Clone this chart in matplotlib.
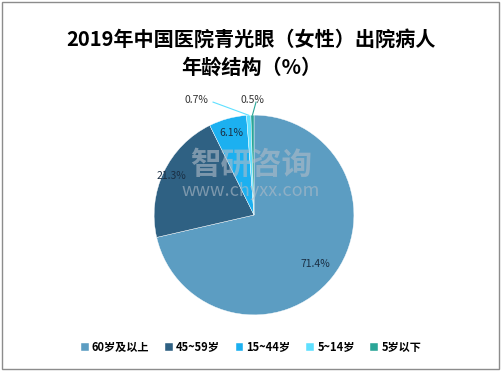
import numpy as np
import matplotlib.pyplot as plt
from matplotlib.patches import Rectangle

plt.rcParams['font.family'] = ['Noto Sans CJK SC', 'DejaVu Sans']

categories = ['60岁及以上', '45~59岁', '15~44岁', '5~14岁', '5岁以下']
shares = [71.4, 21.3, 6.1, 0.7, 0.5]
colors = ['#5c9dc2', '#2f6183', '#1cb0f0', '#5fe0ff', '#2aa597']

fig = plt.figure(figsize=(5.02, 3.71), dpi=100)
fig.patches.append(Rectangle((0.004, 0.005), 0.99, 0.99, transform=fig.transFigure,
                             fill=False, edgecolor='#8c8c8c', linewidth=1))

fig.text(0.5, 0.893, '2019年中国医院青光眼（女性）出院病人', ha='center', va='center',
         fontsize=14.5, fontweight='bold')
fig.text(0.5, 0.818, '年龄结构（%）', ha='center', va='center',
         fontsize=14.5, fontweight='bold')

ax = fig.add_axes([0.307, 0.151, 0.398, 0.539])
wedges, _ = ax.pie(shares, colors=colors, startangle=90, counterclock=False,
                   wedgeprops=dict(edgecolor='white', linewidth=0.3))
ax.set_xlim(-1, 1)
ax.set_ylim(-1, 1)
ax.set_aspect('equal')

dists = [0.78, 0.92, 0.85]
for w, v, d in zip(wedges[:3], shares[:3], dists):
    mid = np.deg2rad((w.theta1 + w.theta2) / 2)
    ax.text(d * np.cos(mid), d * np.sin(mid), f'{v}%', ha='center', va='center',
            fontsize=7.5, color='#1a2f44')

# small slices with leader lines
for w, v, (tx, ty) in zip(wedges[3:], shares[3:], [(-0.58, 1.15), (-0.02, 1.15)]):
    mid = np.deg2rad((w.theta1 + w.theta2) / 2)
    ex, ey = np.cos(mid), np.sin(mid)
    ax.text(tx, ty, f'{v}%', ha='center', va='center', fontsize=7.5, color='#333333')
    ax.plot([tx + 0.17 if tx < -0.1 else tx + 0.04, ex], [ty - 0.02, ey],
            color='#5fe0ff' if v == 0.7 else '#2aa597', linewidth=0.8, clip_on=False)

# watermark
fig.text(0.5, 0.555, '智研咨询', ha='center', va='center', fontsize=22,
         color='#b0bcc8', alpha=0.6, fontweight='bold')
fig.text(0.5, 0.485, 'www.chyxx.com', ha='center', va='center', fontsize=13,
         color='#b0bcc8', alpha=0.6)

fig.legend(wedges, categories, loc='center', bbox_to_anchor=(0.5, 0.063), ncol=5,
           frameon=False, handlelength=0.7, handleheight=0.7,
           handletextpad=0.3, columnspacing=1.4,
           prop={'weight': 'bold', 'size': 8})

fig.savefig('out.png', dpi=100)
